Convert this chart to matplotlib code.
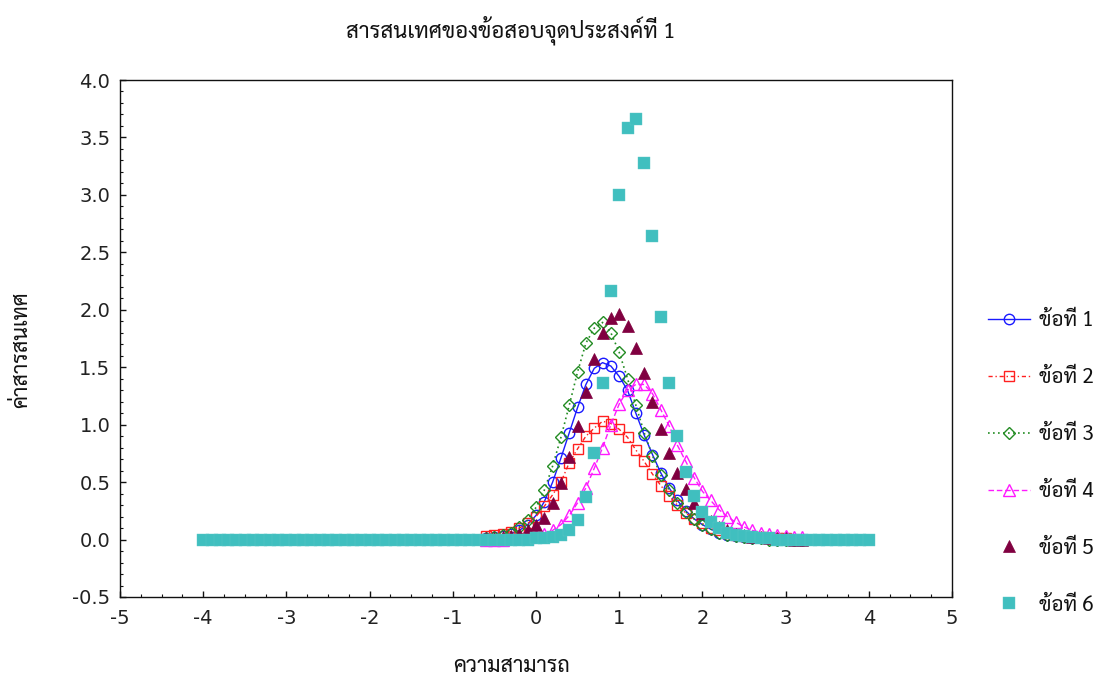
import matplotlib
matplotlib.use("Agg")
import matplotlib.pyplot as plt
from matplotlib import font_manager as fm
from matplotlib.ticker import MultipleLocator, FormatStrFormatter

# ---------------- data ----------------
title = "สารสนเทศของข้อสอบจุดประสงค์ที่ 1"
xlabel = "ความสามารถ"
ylabel = "ค่าสารสนเทศ"
labels = ["ข้อที่ 1", "ข้อที่ 2", "ข้อที่ 3", "ข้อที่ 4", "ข้อที่ 5", "ข้อที่ 6"]

theta_a = [-0.6, -0.5, -0.4, -0.3, -0.2, -0.1, 0.0, 0.1, 0.2, 0.3,
           0.4, 0.5, 0.6, 0.7, 0.8, 0.9, 1.0, 1.1, 1.2, 1.3,
           1.4, 1.5, 1.6, 1.7, 1.8, 1.9, 2.0, 2.1, 2.2, 2.3,
           2.4, 2.5, 2.6, 2.7, 2.8, 2.9, 3.0, 3.1, 3.2]

item1 = [0.01, 0.02, 0.03, 0.05, 0.08, 0.13, 0.21, 0.33, 0.50, 0.71,
         0.93, 1.15, 1.35, 1.49, 1.54, 1.51, 1.42, 1.30, 1.10, 0.91,
         0.74, 0.58, 0.45, 0.34, 0.25, 0.18, 0.13, 0.09, 0.06, 0.04,
         0.03, 0.02, 0.01, 0.01, 0.01, 0.00, 0.00, 0.00, 0.00]

item2 = [0.03, 0.04, 0.05, 0.07, 0.10, 0.14, 0.20, 0.29, 0.39, 0.50,
         0.67, 0.79, 0.90, 0.97, 1.03, 1.01, 0.96, 0.89, 0.78, 0.68,
         0.57, 0.47, 0.38, 0.30, 0.23, 0.18, 0.14, 0.10, 0.08, 0.06,
         0.04, 0.03, 0.02, 0.02, 0.01, 0.01, 0.01, 0.00, 0.00]

item3 = [0.01, 0.02, 0.04, 0.06, 0.11, 0.17, 0.28, 0.43, 0.64, 0.89,
         1.17, 1.46, 1.71, 1.84, 1.89, 1.80, 1.63, 1.40, 1.17, 0.93,
         0.73, 0.56, 0.43, 0.32, 0.24, 0.18, 0.13, 0.09, 0.06, 0.04,
         0.03, 0.02, 0.01, 0.01, 0.00, 0.00, 0.00, 0.00, 0.00]

item4 = [0.00, 0.00, 0.00, 0.01, 0.01, 0.02, 0.03, 0.05, 0.08, 0.13,
         0.21, 0.32, 0.45, 0.62, 0.80, 1.00, 1.18, 1.30, 1.35, 1.35,
         1.27, 1.13, 0.99, 0.82, 0.68, 0.54, 0.42, 0.34, 0.26, 0.20,
         0.15, 0.11, 0.08, 0.06, 0.05, 0.04, 0.03, 0.02, 0.02]

item5 = [0.01, 0.01, 0.02, 0.03, 0.05, 0.08, 0.13, 0.19, 0.32, 0.49,
         0.72, 0.99, 1.28, 1.57, 1.80, 1.93, 1.96, 1.86, 1.67, 1.45,
         1.20, 0.96, 0.75, 0.58, 0.44, 0.32, 0.23, 0.16, 0.11, 0.08,
         0.05, 0.04, 0.02, 0.02, 0.01, 0.01, 0.01, 0.00, 0.00]

theta_b = [-4.0, -3.9, -3.8, -3.7, -3.6, -3.5, -3.4, -3.3, -3.2, -3.1,
           -3.0, -2.9, -2.8, -2.7, -2.6, -2.5, -2.4, -2.3, -2.2, -2.1,
           -2.0, -1.9, -1.8, -1.7, -1.6, -1.5, -1.4, -1.3, -1.2, -1.1,
           -1.0, -0.9, -0.8, -0.7, -0.6, -0.5, -0.4, -0.3, -0.2, -0.1,
           0.0, 0.1, 0.2, 0.3, 0.4, 0.5, 0.6, 0.7, 0.8, 0.9,
           1.0, 1.1, 1.2, 1.3, 1.4, 1.5, 1.6, 1.7, 1.8, 1.9,
           2.0, 2.1, 2.2, 2.3, 2.4, 2.5, 2.6, 2.7, 2.8, 2.9,
           3.0, 3.1, 3.2, 3.3, 3.4, 3.5, 3.6, 3.7, 3.8, 3.9, 4.0]

item6 = [0.00, 0.00, 0.00, 0.00, 0.00, 0.00, 0.00, 0.00, 0.00, 0.00,
         0.00, 0.00, 0.00, 0.00, 0.00, 0.00, 0.00, 0.00, 0.00, 0.00,
         0.00, 0.00, 0.00, 0.00, 0.00, 0.00, 0.00, 0.00, 0.00, 0.00,
         0.00, 0.00, 0.00, 0.00, 0.00, 0.00, 0.00, 0.00, 0.00, 0.00,
         0.01, 0.01, 0.02, 0.04, 0.08, 0.17, 0.37, 0.75, 1.36, 2.16,
         3.00, 3.58, 3.66, 3.28, 2.64, 1.94, 1.36, 0.90, 0.59, 0.38,
         0.24, 0.15, 0.10, 0.06, 0.04, 0.03, 0.02, 0.01, 0.01, 0.00,
         0.00, 0.00, 0.00, 0.00, 0.00, 0.00, 0.00, 0.00, 0.00, 0.00, 0.00]

# ---------------- fonts ----------------
available = {f.name for f in fm.fontManager.ttflist}
thai_candidates = ["Sarabun", "Noto Sans Thai Looped", "Noto Sans Thai", "Niramit",
                   "Trirong", "Unifont"]
thai_font = next((c for c in thai_candidates if c in available), "DejaVu Sans")
thai_family = [thai_font, "DejaVu Sans"]

plt.rcParams["axes.unicode_minus"] = False
plt.rcParams["font.family"] = ["DejaVu Sans"]

# ---------------- figure ----------------
fig = plt.figure(figsize=(11.05, 6.84), dpi=100)
ax = fig.add_axes([120 / 1105, 87 / 684, 832 / 1105, 517 / 684])

ax.plot(theta_a, item1, color="#1a1aff", linestyle="-", linewidth=1.0,
        marker="o", markersize=7.5, markerfacecolor="none",
        markeredgecolor="#1a1aff", markeredgewidth=1.0, label=labels[0])
ax.plot(theta_a, item2, color="#ff2020", linestyle=(0, (3, 2, 1, 2)), linewidth=1.0,
        marker="s", markersize=7.5, markerfacecolor="none",
        markeredgecolor="#ff2020", markeredgewidth=1.0, label=labels[1])
ax.plot(theta_a, item3, color="#238c23", linestyle=(0, (1, 2)), linewidth=1.2,
        marker="D", markersize=6.5, markerfacecolor="none",
        markeredgecolor="#238c23", markeredgewidth=1.0, label=labels[2])
ax.plot(theta_a, item4, color="#ff19ff", linestyle=(0, (4, 2)), linewidth=1.0,
        marker="^", markersize=8.0, markerfacecolor="none",
        markeredgecolor="#ff19ff", markeredgewidth=1.0, label=labels[3])
ax.plot(theta_a, item5, linestyle="none",
        marker="^", markersize=8.5, markerfacecolor="#800040",
        markeredgecolor="#800040", markeredgewidth=0.5, label=labels[4])
ax.plot(theta_b, item6, linestyle="none",
        marker="s", markersize=8.3, markerfacecolor="#40bfbf",
        markeredgecolor="#5cc8c8", markeredgewidth=0.3, label=labels[5])

ax.set_xlim(-5, 5)
ax.set_ylim(-0.5, 4.0)
ax.xaxis.set_major_locator(MultipleLocator(1))
ax.xaxis.set_minor_locator(MultipleLocator(0.25))
ax.yaxis.set_major_locator(MultipleLocator(0.5))
ax.yaxis.set_minor_locator(MultipleLocator(0.1))
ax.yaxis.set_major_formatter(FormatStrFormatter("%.1f"))
ax.xaxis.set_major_formatter(FormatStrFormatter("%d"))
ax.tick_params(which="both", direction="in", top=False, right=False,
               colors="#111111", labelcolor="#222222")
ax.tick_params(which="major", length=4, width=1, labelsize=14, pad=7)
ax.tick_params(which="minor", length=2.5, width=0.8)
ax.tick_params(axis="x", which="major", pad=9)
for sp in ax.spines.values():
    sp.set_linewidth(1.0)
    sp.set_color("#111111")

fig.text(511 / 1105, 1 - 30 / 684, title, family=thai_family, fontsize=16,
         ha="center", va="center", color="#111111")
fig.text(512 / 1105, 1 - 667 / 684, xlabel, family=thai_family, fontsize=15.5,
         ha="center", va="center", color="#111111")
fig.text(22 / 1105, 1 - 350 / 684, ylabel, family=thai_family, fontsize=15.5,
         ha="center", va="center", rotation=90, color="#111111")

handles, _ = ax.get_legend_handles_labels()
leg = fig.legend(handles, labels, loc="center left",
                 bbox_to_anchor=(988 / 1105, 1 - 463 / 684),
                 frameon=False, prop={"family": thai_family, "size": 15},
                 handlelength=2.0, handletextpad=0.45, labelspacing=1.72,
                 borderpad=0, borderaxespad=0)
for t in leg.get_texts():
    t.set_color("#111111")

fig.savefig("out.png", dpi=100)
